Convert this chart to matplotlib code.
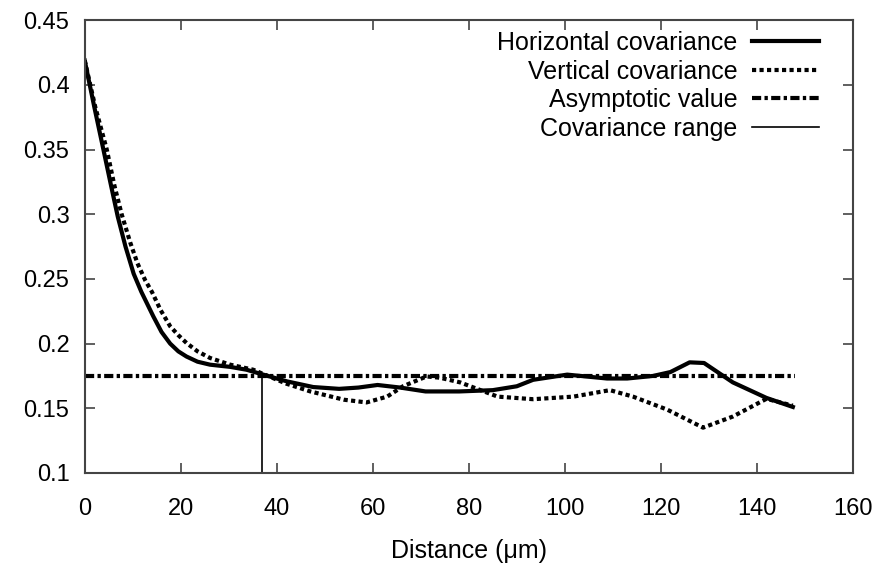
import numpy as np
import matplotlib
matplotlib.use("Agg")
import matplotlib.pyplot as plt

# values
horiz_x = [0, 2, 3.9, 5.5, 6.9, 8.5, 10.2, 11.8, 14.3, 16, 17.8, 19.5, 21.2, 23.5, 26.1,
           30.3, 33.7, 37.2, 42.1, 47.6, 53, 57, 61, 65.7, 71, 78, 85, 90, 93.4, 100.5,
           108.8, 113, 118.4, 122, 126, 129, 135, 142, 147.5]
horiz_y = [0.419, 0.383, 0.350, 0.322, 0.298, 0.275, 0.254, 0.240, 0.221, 0.209, 0.200,
           0.194, 0.190, 0.186, 0.1837, 0.182, 0.1798, 0.176, 0.1708, 0.1664, 0.165, 0.166,
           0.168, 0.166, 0.163, 0.163, 0.164, 0.167, 0.172, 0.176, 0.173, 0.173, 0.175,
           0.178, 0.1855, 0.185, 0.170, 0.158, 0.151]

vert_x = [0, 2.2, 4.6, 6.2, 7.7, 9.5, 11, 12.6, 14, 15.8, 17.8, 19.5, 21.2, 23.5, 26.1,
          30.3, 35.1, 37.5, 42, 47, 54, 58.7, 63, 66.3, 71.2, 74, 78.2, 86, 93.4, 101.8,
          109.4, 114.2, 121.3, 128.8, 135, 142, 147.5]
vert_y = [0.419, 0.383, 0.350, 0.322, 0.300, 0.278, 0.262, 0.249, 0.240, 0.226, 0.2134,
          0.2065, 0.2005, 0.194, 0.1889, 0.1837, 0.1798, 0.176, 0.169, 0.163, 0.1566,
          0.1545, 0.159, 0.167, 0.1746, 0.1736, 0.170, 0.159, 0.157, 0.159, 0.164, 0.159,
          0.149, 0.135, 0.1436, 0.1573, 0.152]

asymptote = 0.175
asym_x = [0, 148]
cov_range = 37

plt.rcParams['font.family'] = ['Liberation Sans', 'DejaVu Sans']

fig = plt.figure(figsize=(8.85, 5.63), dpi=100)
ax = fig.add_axes([0.0957, 0.16, 0.868, 0.804])

ax.plot(horiz_x, horiz_y, color='black', lw=3, label='Horizontal covariance')
ax.plot(vert_x, vert_y, color='black', lw=3, dashes=(1, 0.8), label='Vertical covariance')
ax.plot(asym_x, [asymptote, asymptote], color='black', lw=3, dashes=(2.2, 0.8, 0.8, 0.8),
        label='Asymptotic value')
ax.plot([cov_range, cov_range], [0.1, asymptote], color='black', lw=1.2,
        label='Covariance range')

ax.set_xlim(0, 160)
ax.set_ylim(0.1, 0.45)
ax.set_xticks(np.arange(0, 161, 20))
ax.set_yticks([0.1, 0.15, 0.2, 0.25, 0.3, 0.35, 0.4, 0.45])
ax.set_yticklabels(['0.1', '0.15', '0.2', '0.25', '0.3', '0.35', '0.4', '0.45'])
ax.tick_params(direction='in', length=7, width=1.2, labelsize=17, top=True, right=True,
               color='#444444')
ax.tick_params(axis='x', pad=18)
ax.tick_params(axis='y', pad=11)
for s in ax.spines.values():
    s.set_linewidth(1.5)
    s.set_color('#444444')

ax.set_xlabel('Distance (\u03bcm)', fontsize=18, labelpad=14)

leg = ax.legend(loc='upper right', frameon=False, markerfirst=False, fontsize=18,
                handlelength=2.68, labelspacing=0.18, handletextpad=0.58,
                borderaxespad=0, borderpad=0, bbox_to_anchor=(0.9555, 0.976))

fig.savefig('out.png', dpi=100)
